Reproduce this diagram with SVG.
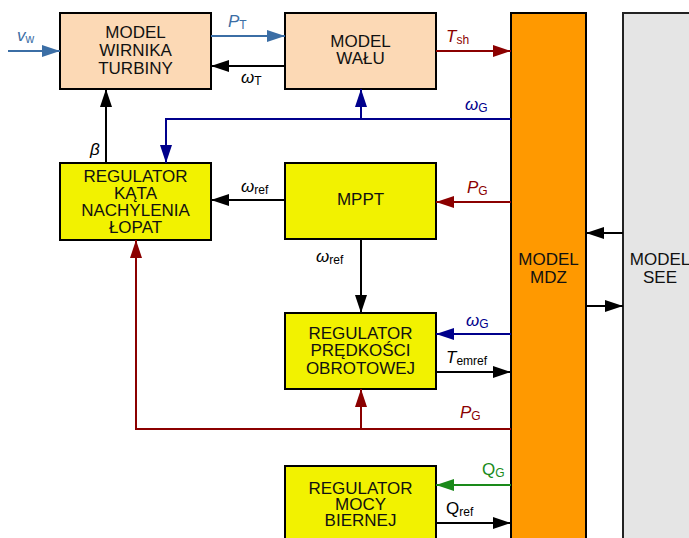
<svg xmlns="http://www.w3.org/2000/svg" width="689" height="538" viewBox="0 0 689 538">
<defs>
<style>
.box{stroke:#000;stroke-width:2}
.peach{fill:#fcd9b5}
.yel{fill:#f2f200}
.nt{font-family:"Liberation Sans",Arial,sans-serif;font-size:17px;fill:#111;text-anchor:middle}
.lb{font-family:"Liberation Sans",Arial,sans-serif;font-size:17px}
.it{font-style:italic}
.sub{font-size:12px;font-style:normal}
.c{fill:none;stroke-width:2}
.k{stroke:#000}
.bl{stroke:#3b6ea5}
.nv{stroke:#00008c}
.rd{stroke:#8b0000}
.gr{stroke:#1a8a1a}
</style>
<marker id="aK" markerUnits="userSpaceOnUse" markerWidth="18" markerHeight="12" refX="18" refY="6" orient="auto"><path d="M0,0 L18,6 L0,12 z" fill="#000"/></marker>
<marker id="aB" markerUnits="userSpaceOnUse" markerWidth="18" markerHeight="12" refX="18" refY="6" orient="auto"><path d="M0,0 L18,6 L0,12 z" fill="#3b6ea5"/></marker>
<marker id="aN" markerUnits="userSpaceOnUse" markerWidth="18" markerHeight="12" refX="18" refY="6" orient="auto"><path d="M0,0 L18,6 L0,12 z" fill="#00008c"/></marker>
<marker id="aR" markerUnits="userSpaceOnUse" markerWidth="18" markerHeight="12" refX="18" refY="6" orient="auto"><path d="M0,0 L18,6 L0,12 z" fill="#8b0000"/></marker>
<marker id="aG" markerUnits="userSpaceOnUse" markerWidth="18" markerHeight="12" refX="18" refY="6" orient="auto"><path d="M0,0 L18,6 L0,12 z" fill="#1a8a1a"/></marker>
</defs>
<rect width="689" height="538" fill="#fff"/>

<g id="see">
<rect x="623" y="13" width="80" height="540" fill="#e5e5e5" stroke="#222" stroke-width="2"/>
<text class="nt" x="660" y="265">MODEL</text>
<text class="nt" x="660" y="283">SEE</text>
</g>
<g id="mdz">
<rect class="box" x="511" y="13" width="75" height="540" fill="#ff9900"/>
<text class="nt" x="548.5" y="265">MODEL</text>
<text class="nt" x="548.5" y="283">MDZ</text>
</g>
<g id="wirnik">
<rect class="box peach" x="60" y="13" width="151" height="76"/>
<text class="nt" x="135.5" y="38">MODEL</text>
<text class="nt" x="135.5" y="56">WIRNIKA</text>
<text class="nt" x="135.5" y="74">TURBINY</text>
</g>
<g id="wal">
<rect class="box peach" x="285" y="13" width="151" height="76"/>
<text class="nt" x="360.5" y="47">MODEL</text>
<text class="nt" x="360.5" y="64">WAŁU</text>
</g>
<g id="reg-kata">
<rect class="box yel" x="60" y="163" width="151" height="77"/>
<text class="nt" x="135.5" y="182">REGULATOR</text>
<text class="nt" x="135.5" y="199">KĄTA</text>
<text class="nt" x="135.5" y="216">NACHYLENIA</text>
<text class="nt" x="135.5" y="233">ŁOPAT</text>
</g>
<g id="mppt">
<rect class="box yel" x="285" y="163" width="151" height="76"/>
<text class="nt" x="360.5" y="205">MPPT</text>
</g>
<g id="reg-predkosci">
<rect class="box yel" x="285" y="313" width="151" height="76"/>
<text class="nt" x="360.5" y="339">REGULATOR</text>
<text class="nt" x="360.5" y="356">PRĘDKOŚCI</text>
<text class="nt" x="360.5" y="374">OBROTOWEJ</text>
</g>
<g id="reg-mocy">
<rect class="box yel" x="285" y="466" width="151" height="90"/>
<text class="nt" x="360.5" y="494">REGULATOR</text>
<text class="nt" x="360.5" y="510">MOCY</text>
<text class="nt" x="360.5" y="526">BIERNEJ</text>
</g>

<g id="connectors">
<path class="c bl" d="M8,51 H60" marker-end="url(#aB)"/>
<path class="c bl" d="M211,36 H285" marker-end="url(#aB)"/>
<path class="c k" d="M285,66 H211" marker-end="url(#aK)"/>
<path class="c rd" d="M436,51 H511" marker-end="url(#aR)"/>
<path class="c nv" d="M511,119 H166 V163" marker-end="url(#aN)"/>
<path class="c nv" d="M361,119 V89" marker-end="url(#aN)"/>
<path class="c k" d="M106,163 V89" marker-end="url(#aK)"/>
<path class="c k" d="M285,200 H211" marker-end="url(#aK)"/>
<path class="c rd" d="M511,202 H436" marker-end="url(#aR)"/>
<path class="c k" d="M361,239 V313" marker-end="url(#aK)"/>
<path class="c nv" d="M511,334 H436" marker-end="url(#aN)"/>
<path class="c k" d="M436,372 H511" marker-end="url(#aK)"/>
<path class="c rd" d="M511,429 H136 V240" marker-end="url(#aR)"/>
<path class="c rd" d="M361,429 V389" marker-end="url(#aR)"/>
<path class="c gr" d="M511,485 H436" marker-end="url(#aG)"/>
<path class="c k" d="M436,523 H511" marker-end="url(#aK)"/>
<path class="c k" d="M623,233 H586" marker-end="url(#aK)"/>
<path class="c k" d="M586,306 H623" marker-end="url(#aK)"/>
</g>

<g id="labels">
<text class="lb it" x="17" y="41" fill="#3b6ea5">v<tspan class="sub" dy="2">w</tspan></text>
<text class="lb it" x="228" y="27" fill="#3b6ea5">P<tspan class="sub" dy="2">T</tspan></text>
<text class="lb it" x="241" y="83" fill="#000">ω<tspan class="sub" dy="2">T</tspan></text>
<text class="lb it" x="446" y="42" fill="#8b0000">T<tspan class="sub" dy="2">sh</tspan></text>
<text class="lb it" x="465" y="110" fill="#00008c">ω<tspan class="sub" dy="2">G</tspan></text>
<text class="lb it" x="90" y="155" fill="#000">β</text>
<text class="lb it" x="241" y="192" fill="#000">ω<tspan class="sub" dy="2">ref</tspan></text>
<text class="lb it" x="467" y="193" fill="#8b0000">P<tspan class="sub" dy="2">G</tspan></text>
<text class="lb it" x="316" y="262" fill="#000">ω<tspan class="sub" dy="2">ref</tspan></text>
<text class="lb it" x="466" y="326" fill="#00008c">ω<tspan class="sub" dy="2">G</tspan></text>
<text class="lb it" x="446" y="363" fill="#000">T<tspan class="sub" dy="2">emref</tspan></text>
<text class="lb it" x="460" y="418" fill="#8b0000">P<tspan class="sub" dy="2">G</tspan></text>
<text class="lb" x="482" y="475" fill="#1a8a1a">Q<tspan class="sub" dy="2">G</tspan></text>
<text class="lb" x="446" y="514" fill="#000">Q<tspan class="sub" dy="2" font-style="italic">ref</tspan></text>
</g>
</svg>
